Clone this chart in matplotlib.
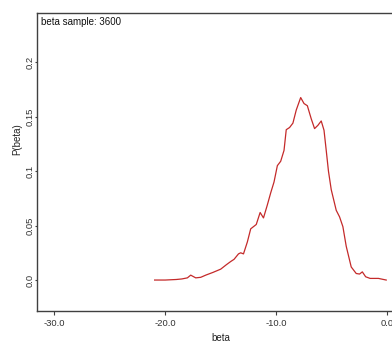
import matplotlib
matplotlib.use("Agg")
import matplotlib.pyplot as plt

plt.rcParams['font.family'] = ['Liberation Sans', 'DejaVu Sans']

# posterior density of beta (kernel estimate, read as points)
beta = [-20.95, -20.0, -19.0, -18.5, -18.0, -17.7, -17.25, -16.8, -16.35, -15.7,
        -15.0, -14.5, -14.1, -13.8, -13.4, -13.2, -12.95, -12.6, -12.3, -11.8,
        -11.45, -11.15, -10.8, -10.5, -10.2, -9.9, -9.6, -9.3, -9.1, -8.8,
        -8.5, -8.2, -7.8, -7.5, -7.2, -6.85, -6.55, -6.25, -5.95, -5.7,
        -5.5, -5.3, -5.05, -4.6, -4.3, -4.0, -3.7, -3.25, -2.8, -2.5,
        -2.25, -1.95, -1.55, -0.8, -0.1]
p_beta = [0.0, 0.0, 0.0005, 0.001, 0.002, 0.0045, 0.002, 0.0025, 0.0045, 0.007,
          0.010, 0.014, 0.017, 0.019, 0.024, 0.025, 0.024, 0.035, 0.047, 0.051,
          0.062, 0.057, 0.069, 0.080, 0.090, 0.105, 0.109, 0.119, 0.138, 0.140,
          0.144, 0.156, 0.1675, 0.162, 0.160, 0.148, 0.139, 0.142, 0.146, 0.1375,
          0.119, 0.100, 0.083, 0.064, 0.058, 0.049, 0.031, 0.012, 0.006, 0.0055,
          0.0075, 0.003, 0.0015, 0.0015, 0.0]

xticks = [-30, -20, -10, 0]
xtick_labels = ["-30.0", "-20.0", "-10.0", "0.0"]
yticks = [0.0, 0.05, 0.1, 0.15, 0.2]
ytick_labels = ["0.0", "0.05", "0.1", "0.15", "0.2"]
n_sample = 3600

fig = plt.figure(figsize=(3.92, 3.45), dpi=100)
ax = fig.add_axes([0.0944, 0.0986, 0.92, 0.8634])

ax.plot(beta, p_beta, color='#c42a2a', linewidth=0.9)

ax.set_xlim(-31.54, 0.93)
ax.set_ylim(-0.0284, 0.245)

ax.set_xticks(xticks)
ax.set_xticklabels(xtick_labels)
ax.set_yticks(yticks)
ax.set_yticklabels(ytick_labels, rotation=90, va='center')

for s in ax.spines.values():
    s.set_color('#404040')
    s.set_linewidth(1.0)

ax.tick_params(direction='out', width=0.8, color='#404040',
               labelsize=6.8, labelcolor='#333333')
ax.tick_params(axis='x', length=3.0, pad=3)
ax.tick_params(axis='y', length=1.5, pad=0.2)

ax.set_xlabel('beta', fontsize=7, color='#222222')
ax.set_ylabel('P(beta)', fontsize=7, color='#222222')
ax.xaxis.set_label_coords(0.51, -0.0906)
ax.xaxis.label.set_va('center')
ax.yaxis.set_label_coords(-0.054, 0.577)
ax.yaxis.label.set_va('center')

ax.text(0.012, 0.988, f'beta sample: {n_sample}', transform=ax.transAxes,
        fontsize=7, color='#111111', ha='left', va='top')

fig.savefig('out.png', dpi=100)
